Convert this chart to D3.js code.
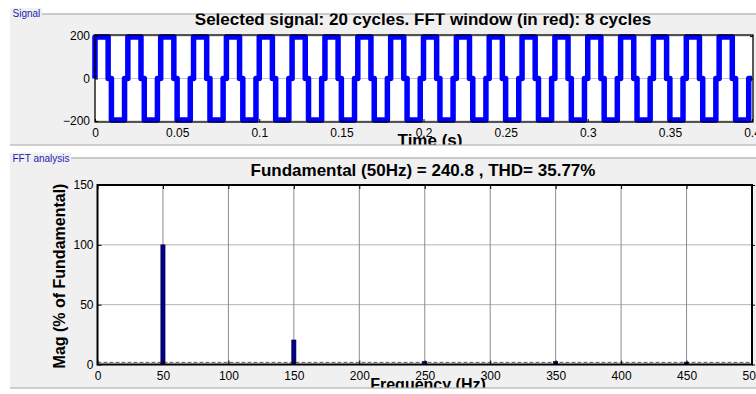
<!DOCTYPE html>
<html>
<head>
    <meta charset="utf-8">
    <style type="text/css">
        body { margin: 0; background: #fff; }
        svg { display: block; font-family: Arial, "Liberation Sans", sans-serif; }
        .axis text { font-size: 12px; fill: #000; }
        .axis path.domain { display: none; }
        .axis line { stroke: #000; }
        .title { font-size: 17px; font-weight: bold; text-anchor: middle; fill: #000; }
        .label { font-size: 16px; font-weight: bold; text-anchor: middle; fill: #000; }
        .panelTitle { font-size: 10px; fill: #1c1cb4; }
    </style>
    <script src="https://d3js.org/d3.v7.min.js"></script>
</head>
<body>
    <svg id="chart" width="756" height="394"></svg>
<script type="text/javascript">
// --- signal panel data: one cycle of the quasi-square wave, repeated for the selected cycles
const signalCycles = 20;
const signalPeriod = 0.02;                 // s (50 Hz)
const cycleEdges = [0, 0.4, 0.5, 0.9];     // where the level changes, as a fraction of the period
const cycleLevels = [195, 0, -195, 0];
const timeTicks = [0, 0.05, 0.1, 0.15, 0.2, 0.25, 0.3, 0.35, 0.4];
const signalTicks = [-200, 0, 200];

// --- FFT panel data
const harmonicFreqs = [50, 150, 250, 350, 450];
const harmonicMags = [100, 20.5, 2.5, 2.5, 2.0];
const noiseFloor = 1.8;
const freqTicks = [0, 50, 100, 150, 200, 250, 300, 350, 400, 450, 500];
const magTicks = [0, 50, 100, 150];

const svg = d3.select('#chart');
const panelFill = '#f0f0f0';

// panels (Signal / FFT analysis)
function panel(id, top, bottom, name, labelY) {
    svg.append('clipPath').attr('id', id)
      .append('rect').attr('x', 0).attr('y', top).attr('width', 756).attr('height', bottom - top);
    svg.append('rect')
      .attr('x', 10).attr('y', top).attr('width', 760).attr('height', bottom - top)
      .attr('fill', panelFill);
    svg.append('line').attr('x1', 10).attr('x2', 756).attr('y1', top + 0.5).attr('y2', top + 0.5)
      .attr('stroke', '#a0a0a0');
    svg.append('line').attr('x1', 10).attr('x2', 756).attr('y1', bottom + 0.5).attr('y2', bottom + 0.5)
      .attr('stroke', '#a0a0a0');
    const t = svg.append('text').attr('class', 'panelTitle')
      .attr('x', 12.5).attr('y', labelY).text(name);
    const w = t.node().getComputedTextLength();
    svg.insert('rect', 'text.panelTitle:last-of-type')
      .attr('x', 10).attr('y', labelY - 9).attr('width', w + 4).attr('height', 12)
      .attr('fill', panelFill);
    return svg.append('g').attr('clip-path', 'url(#' + id + ')');
}

const sigPanel = panel('clipSig', 13.5, 144.5, 'Signal', 17);
const fftPanel = panel('clipFft', 157.5, 387.5, 'FFT analysis', 161.5);

// ---------------- Signal plot ----------------
const sx = d3.scaleLinear().domain([0, 0.4]).range([95, 752]);
const sy = d3.scaleLinear().domain([-205, 205]).range([122, 35]);

sigPanel.append('rect')
  .attr('x', 95).attr('y', 35).attr('width', 753 - 95).attr('height', 122 - 35)
  .attr('fill', '#fff');

sigPanel.append('g')
  .selectAll('line').data(signalTicks).enter().append('line')
  .attr('x1', 95).attr('x2', 753)
  .attr('y1', d => sy(d)).attr('y2', d => sy(d))
  .attr('stroke', '#c8c8c8');

const signalPoints = [[0, 0]];
d3.range(signalCycles).forEach(c => {
    cycleEdges.forEach((f, i) => {
        signalPoints.push([(c + f) * signalPeriod, cycleLevels[i]]);
    });
});
signalPoints.push([signalCycles * signalPeriod, 0]);

sigPanel.append('path')
  .datum(signalPoints)
  .attr('fill', 'none')
  .attr('stroke', '#0000ff')
  .attr('stroke-width', 5.5)
  .attr('stroke-linejoin', 'round')
  .attr('d', d3.line().x(d => sx(d[0])).y(d => sy(d[1])).curve(d3.curveStepAfter));

sigPanel.append('g').attr('class', 'axis')
  .attr('transform', 'translate(0,122)')
  .call(d3.axisBottom(sx).tickValues(timeTicks).tickFormat(d => d).tickSize(-3).tickPadding(6));

sigPanel.append('g').attr('class', 'axis')
  .attr('transform', 'translate(95,0)')
  .call(d3.axisLeft(sy).tickValues(signalTicks).tickSize(-3).tickPadding(5));

sigPanel.append('g').attr('class', 'axis')
  .attr('transform', 'translate(753,0)')
  .call(d3.axisRight(sy).tickValues(signalTicks).tickSize(-3).tickFormat(''));

sigPanel.append('rect')
  .attr('x', 95).attr('y', 35).attr('width', 753 - 95).attr('height', 122 - 35)
  .attr('fill', 'none').attr('stroke', '#000').attr('stroke-width', 1.3);

sigPanel.append('text').attr('class', 'title')
  .attr('x', 423).attr('y', 25)
  .text('Selected signal: 20 cycles. FFT window (in red): 8 cycles');

sigPanel.append('text').attr('class', 'label')
  .style('font-size', '17px')
  .attr('x', 430).attr('y', 145.5)
  .text('Time (s)');

// ---------------- FFT plot ----------------
const fx = d3.scaleLinear().domain([0, 500]).range([97.5, 752]);
const fy = d3.scaleLinear().domain([0, 150]).range([364.5, 185]);

fftPanel.append('rect')
  .attr('x', 97.5).attr('y', 185).attr('width', 752 - 97.5).attr('height', 364.5 - 185)
  .attr('fill', '#fff');

fftPanel.append('g')
  .selectAll('line').data(magTicks.slice(1, -1)).enter().append('line')
  .attr('x1', 97.5).attr('x2', 752)
  .attr('y1', d => fy(d)).attr('y2', d => fy(d))
  .attr('stroke', '#b4b4b4');

fftPanel.append('g')
  .selectAll('line').data(freqTicks.slice(1, -1)).enter().append('line')
  .attr('x1', d => fx(d)).attr('x2', d => fx(d))
  .attr('y1', 185).attr('y2', 364.5)
  .attr('stroke', '#8c8c8c');

fftPanel.append('line')
  .attr('x1', 97.5).attr('x2', 752)
  .attr('y1', fy(noiseFloor)).attr('y2', fy(noiseFloor))
  .attr('stroke', '#5a5a5a').attr('stroke-dasharray', '4,2');

const barW = 3.2; // Hz
fftPanel.append('g')
  .selectAll('rect').data(harmonicFreqs).enter().append('rect')
  .attr('x', d => fx(d - barW / 2))
  .attr('width', fx(barW) - fx(0))
  .attr('y', (d, i) => fy(harmonicMags[i]))
  .attr('height', (d, i) => fy(0) - fy(harmonicMags[i]))
  .attr('fill', '#00008c')
  .attr('stroke', '#000024').attr('stroke-width', 0.6);

fftPanel.append('g').attr('class', 'axis')
  .attr('transform', 'translate(0,364.5)')
  .call(d3.axisBottom(fx).tickValues(freqTicks).tickSize(-4).tickPadding(7));

fftPanel.append('g').attr('class', 'axis')
  .attr('transform', 'translate(0,185)')
  .call(d3.axisTop(fx).tickValues(freqTicks).tickSize(-4).tickFormat(''));

fftPanel.append('g').attr('class', 'axis')
  .attr('transform', 'translate(97.5,0)')
  .call(d3.axisLeft(fy).tickValues(magTicks).tickSize(-4).tickPadding(4));

fftPanel.append('g').attr('class', 'axis')
  .attr('transform', 'translate(752,0)')
  .call(d3.axisRight(fy).tickValues(magTicks).tickSize(3).tickFormat(''));

fftPanel.append('rect')
  .attr('x', 97.5).attr('y', 185).attr('width', 752 - 97.5).attr('height', 364.5 - 185)
  .attr('fill', 'none').attr('stroke', '#000').attr('stroke-width', 2);

fftPanel.append('text').attr('class', 'title')
  .attr('x', 423).attr('y', 176)
  .text('Fundamental (50Hz) = 240.8 , THD= 35.77%');

fftPanel.append('text').attr('class', 'label')
  .attr('x', 428).attr('y', 390)
  .text('Frequency (Hz)');

fftPanel.append('text').attr('class', 'label')
  .attr('transform', 'translate(65,276) rotate(-90)')
  .text('Mag (% of Fundamental)');
</script>
</body>
</html>
